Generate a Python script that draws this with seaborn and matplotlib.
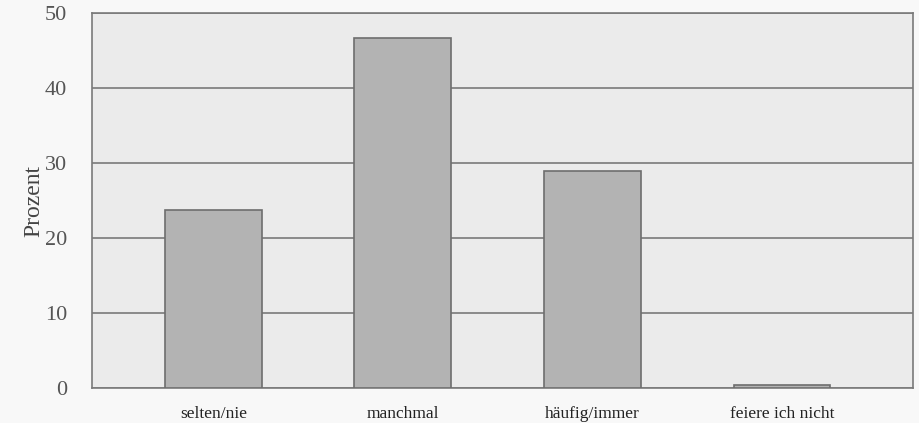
import matplotlib
matplotlib.use("Agg")
import matplotlib.pyplot as plt
import seaborn as sns
import pandas as pd

categories = ["selten/nie", "manchmal", "häufig/immer", "feiere ich nicht"]
prozent = [23.7, 46.7, 28.9, 0.4]
yticks = [0, 10, 20, 30, 40, 50]

data = pd.DataFrame({"Kategorie": categories, "Prozent": prozent})

sns.set_style("white")
plt.rcParams["font.family"] = ["Liberation Serif", "DejaVu Serif"]

fig = plt.figure(figsize=(9.2, 4.23), dpi=100, facecolor="#f8f8f8")
ax = fig.add_axes([0.1, 0.083, 0.892, 0.886])
ax.set_facecolor("#ebebeb")

sns.barplot(x="Kategorie", y="Prozent", data=data, ax=ax,
            color="#b3b3b3", edgecolor="#6e6e6e", linewidth=1.2,
            width=0.51, zorder=3)

ax.set_ylim(0, 50)
ax.set_xlim(-0.64, 3.69)
ax.set_yticks(yticks)
ax.yaxis.grid(True, color="#7a7a7a", linewidth=1.2, zorder=1)
ax.set_axisbelow(True)

ax.tick_params(axis="y", length=0, labelsize=16, pad=18, labelcolor="#555555")
ax.tick_params(axis="x", length=0, labelsize=12.5, pad=13, labelcolor="#222222")
ax.set_xlabel("")
ax.set_ylabel("Prozent", fontsize=17, color="#444444")
ax.yaxis.set_label_coords(-0.058, 0.5)

for s in ax.spines.values():
    s.set_color("#7a7a7a")
    s.set_linewidth(1.2)

plt.savefig("out.png", dpi=100, facecolor=fig.get_facecolor())
